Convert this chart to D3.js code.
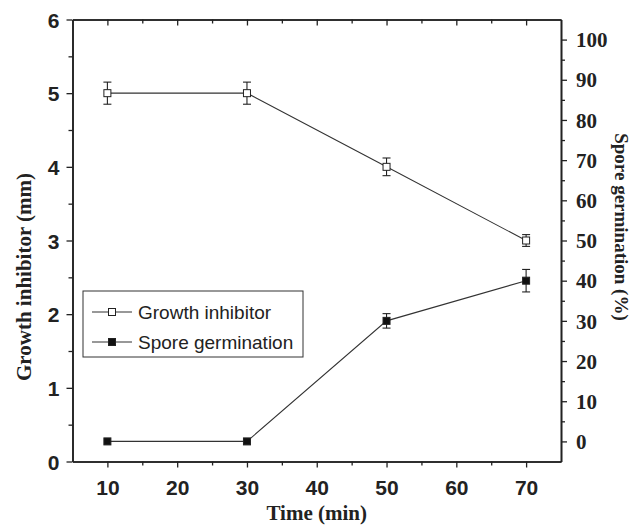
<!DOCTYPE html>
<html>
<head>
<meta charset="utf-8">
<script src="https://cdn.jsdelivr.net/npm/d3@7"></script>
<style>
  body { margin: 0; background: #fff; }
  svg { display: block; }
</style>
</head>
<body>
<div id="chart"></div>
<script>
// data
const times = [10, 30, 50, 70];
const growth = [5.0, 5.0, 4.0, 3.0];
const growthErr = [0.15, 0.15, 0.12, 0.08];
const spore = [0, 0, 30, 40];
const sporeErr = [0, 0, 1.8, 2.8];
const xTicks = [10, 20, 30, 40, 50, 60, 70];
const leftTicks = [0, 1, 2, 3, 4, 5, 6];
const rightTicks = [0, 10, 20, 30, 40, 50, 60, 70, 80, 90, 100];

const W = 643, H = 529;
const margin = {top: 19.5, right: 82, bottom: 67.5, left: 72.5};
const width = W - margin.left - margin.right;
const height = H - margin.top - margin.bottom;

const svg = d3.select("#chart").append("svg")
    .attr("width", W)
    .attr("height", H);

const g = svg.append("g")
    .attr("transform", `translate(${margin.left},${margin.top})`);

const x = d3.scaleLinear().domain([5, 75]).range([0, width]);
const yL = d3.scaleLinear().domain([0, 6]).range([height, 0]);
const yR = d3.scaleLinear().domain([-5, 105]).range([height, 0]);

const sans = "'Liberation Sans', Arial, sans-serif";
const serif = "'Liberation Serif', 'Times New Roman', serif";
const ink = "#222";

// axes
const xAxis = g.append("g")
    .attr("transform", `translate(0,${height})`)
    .call(d3.axisBottom(x).tickValues(xTicks).tickSize(6).tickPadding(13).tickSizeOuter(0));
g.append("g")
    .attr("transform", `translate(0,${height})`)
    .call(d3.axisBottom(x).tickValues(d3.range(15, 75, 10)).tickSize(4).tickFormat("").tickSizeOuter(0));

g.append("g")
    .call(d3.axisBottom(x).tickValues(xTicks).tickSize(6).tickFormat("").tickSizeOuter(0));
g.append("g")
    .call(d3.axisBottom(x).tickValues(d3.range(15, 75, 10)).tickSize(4).tickFormat("").tickSizeOuter(0));

const yAxisL = g.append("g")
    .call(d3.axisLeft(yL).tickValues(leftTicks).tickFormat(d3.format("d"))
        .tickSize(6).tickPadding(7).tickSizeOuter(0));
g.append("g")
    .call(d3.axisLeft(yL).tickValues(d3.range(0.5, 6, 1)).tickSize(4).tickFormat("").tickSizeOuter(0));

const yAxisR = g.append("g")
    .attr("transform", `translate(${width},0)`)
    .call(d3.axisRight(yR).tickValues(rightTicks).tickSize(6).tickPadding(9).tickSizeOuter(0));
g.append("g")
    .attr("transform", `translate(${width},0)`)
    .call(d3.axisRight(yR).tickValues(d3.range(5, 105, 10)).tickSize(4).tickFormat("").tickSizeOuter(0));

g.selectAll(".domain").attr("stroke", ink).attr("stroke-width", 1.6);
g.selectAll(".tick line").attr("stroke", ink).attr("stroke-width", 1.3);

xAxis.selectAll(".tick text")
    .attr("font-family", sans).attr("font-weight", "bold")
    .attr("font-size", 21).attr("fill", ink);
yAxisL.selectAll(".tick text")
    .attr("font-family", sans).attr("font-weight", "bold")
    .attr("font-size", 21).attr("fill", ink).attr("dy", "0.36em");
yAxisR.selectAll(".tick text")
    .attr("font-family", serif).attr("font-weight", "bold")
    .attr("font-size", 21).attr("fill", ink).attr("dy", "0.34em");

// axis titles
svg.append("text")
    .attr("x", margin.left + width / 2).attr("y", 520)
    .attr("text-anchor", "middle")
    .attr("font-family", serif).attr("font-weight", "bold").attr("font-size", 21)
    .attr("fill", ink)
    .text("Time (min)");

svg.append("text")
    .attr("transform", "translate(31,381) rotate(-90)")
    .attr("text-anchor", "start")
    .attr("font-family", serif).attr("font-weight", "bold").attr("font-size", 21)
    .attr("fill", ink)
    .text("Growth inhibitor (mm)");

svg.append("text")
    .attr("transform", "translate(615,227) rotate(90)")
    .attr("text-anchor", "middle")
    .attr("font-family", serif).attr("font-weight", "bold").attr("font-size", 19)
    .attr("fill", ink)
    .text("Spore germination (%)");

// series
const series = [
    {name: "Growth inhibitor", vals: growth, errs: growthErr, y: yL, fill: "#fff"},
    {name: "Spore germination", vals: spore, errs: sporeErr, y: yR, fill: "#111"}
];

const ms = 7, cap = 4;

series.forEach(s => {
    const pts = times.map((t, i) => ({t, v: s.vals[i], e: s.errs[i]}));
    const line = d3.line().x(d => x(d.t)).y(d => s.y(d.v));
    g.append("path")
        .datum(pts)
        .attr("d", line)
        .attr("fill", "none")
        .attr("stroke", "#333")
        .attr("stroke-width", 1.1);

    const eb = g.append("g").selectAll("g")
        .data(pts.filter(d => d.e > 0))
        .join("g")
        .attr("stroke", ink).attr("stroke-width", 1.1);
    eb.append("line")
        .attr("x1", d => x(d.t)).attr("x2", d => x(d.t))
        .attr("y1", d => s.y(d.v - d.e)).attr("y2", d => s.y(d.v + d.e));
    eb.append("line")
        .attr("x1", d => x(d.t) - cap).attr("x2", d => x(d.t) + cap)
        .attr("y1", d => s.y(d.v + d.e)).attr("y2", d => s.y(d.v + d.e));
    eb.append("line")
        .attr("x1", d => x(d.t) - cap).attr("x2", d => x(d.t) + cap)
        .attr("y1", d => s.y(d.v - d.e)).attr("y2", d => s.y(d.v - d.e));

    g.append("g").selectAll("rect")
        .data(pts)
        .join("rect")
        .attr("x", d => x(d.t) - ms / 2)
        .attr("y", d => s.y(d.v) - ms / 2)
        .attr("width", ms).attr("height", ms)
        .attr("fill", s.fill)
        .attr("stroke", ink).attr("stroke-width", 1);
});

// legend
const legend = svg.append("g").attr("transform", "translate(83,291)");
legend.append("rect")
    .attr("width", 220).attr("height", 66)
    .attr("fill", "#fff").attr("stroke", "#333").attr("stroke-width", 1);

const items = legend.selectAll("g.item")
    .data(series)
    .join("g")
    .attr("class", "item")
    .attr("transform", (d, i) => `translate(0,${21 + i * 30})`);
items.append("line")
    .attr("x1", 9).attr("x2", 49)
    .attr("stroke", "#333").attr("stroke-width", 1.1);
items.append("rect")
    .attr("x", 29 - ms / 2).attr("y", -ms / 2)
    .attr("width", ms).attr("height", ms)
    .attr("fill", d => d.fill)
    .attr("stroke", ink).attr("stroke-width", 1);
items.append("text")
    .attr("x", 55).attr("dy", "0.35em")
    .attr("font-family", sans).attr("font-size", 19)
    .attr("fill", ink)
    .text(d => d.name);
</script>
</body>
</html>
